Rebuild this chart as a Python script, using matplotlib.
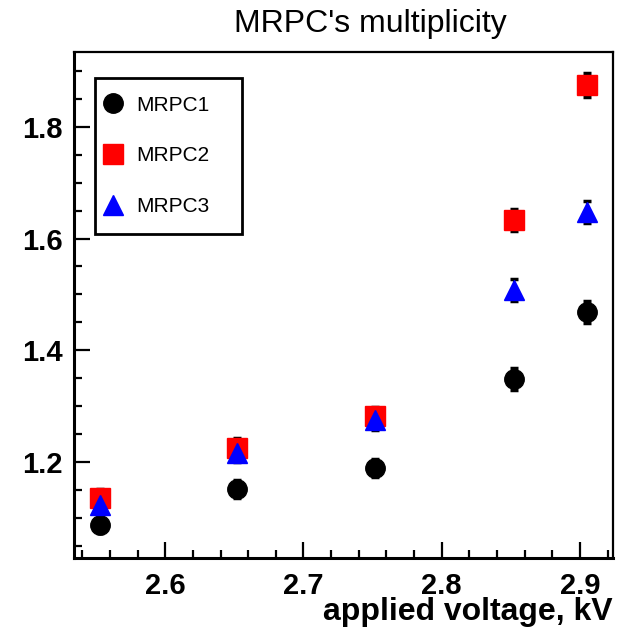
import matplotlib
matplotlib.use("Agg")
from matplotlib import pyplot as plt
from matplotlib.lines import Line2D
from matplotlib.ticker import MultipleLocator

plt.rcParams['font.family'] = ['Liberation Sans', 'DejaVu Sans']

# applied high voltage, kV
hv = [2.553, 2.652, 2.752, 2.852, 2.905]

# mean multiplicity per chamber, with errors
mrpc1 = [1.087, 1.152, 1.189, 1.349, 1.469]
mrpc1_err = [0.015, 0.016, 0.016, 0.020, 0.020]
mrpc2 = [1.136, 1.225, 1.282, 1.633, 1.875]
mrpc2_err = [0.015, 0.017, 0.017, 0.020, 0.021]
mrpc3 = [1.123, 1.216, 1.275, 1.508, 1.648]
mrpc3_err = [0.015, 0.017, 0.017, 0.020, 0.020]

labels = ["MRPC1", "MRPC2", "MRPC3"]

fig = plt.figure(figsize=(6.17, 6.30), dpi=100)
ax = fig.add_axes([0.120, 0.1143, 0.8736, 0.8032])

styles = [("o", "black"), ("s", "red"), ("^", "blue")]
series = [(mrpc1, mrpc1_err), (mrpc2, mrpc2_err), (mrpc3, mrpc3_err)]
for (y, err), (m, c) in zip(series, styles):
    ax.errorbar(hv, y, yerr=err, fmt=m, color=c, ms=14, mec=c,
                ecolor="black", elinewidth=1.5, capsize=3, capthick=2.5)

ax.set_xlim(2.534, 2.924)
ax.set_ylim(1.028, 1.934)

ax.xaxis.set_major_locator(MultipleLocator(0.1))
ax.xaxis.set_minor_locator(MultipleLocator(0.02))
ax.yaxis.set_major_locator(MultipleLocator(0.2))
ax.yaxis.set_minor_locator(MultipleLocator(0.05))
ax.tick_params(which="both", direction="in", top=False, right=False, width=1.6)
ax.tick_params(which="major", length=11.5)
ax.tick_params(which="minor", length=5.8)
ax.tick_params(axis="x", which="major", pad=10)
ax.tick_params(axis="y", which="major", pad=8)
for lab in ax.get_xticklabels() + ax.get_yticklabels():
    lab.set_fontsize(21)
    lab.set_fontweight("bold")

for side in ["left", "bottom"]:
    ax.spines[side].set_linewidth(2.2)
for side in ["top", "right"]:
    ax.spines[side].set_linewidth(1.6)

ax.set_xlabel("applied voltage, kV", fontsize=23, fontweight="bold",
              loc="right", labelpad=-2)
fig.text(0.601, 0.985, "MRPC's multiplicity", ha="center", va="top",
         fontsize=23)

handles = [Line2D([], [], ls="none", marker=m, color=c, ms=14)
           for m, c in styles]
leg = ax.legend(handles, labels, loc="upper left",
                bbox_to_anchor=(0.039, 0.0, 0.273, 0.9486), mode="expand",
                borderaxespad=0, fontsize=15, frameon=True, fancybox=False,
                edgecolor="black", borderpad=0.85, handlelength=0.0,
                handletextpad=1.13, labelspacing=1.52)
leg.get_frame().set_linewidth(2)
leg.get_frame().set_alpha(None)
leg.get_frame().set_facecolor("white")

fig.savefig("out.png", dpi=100)
